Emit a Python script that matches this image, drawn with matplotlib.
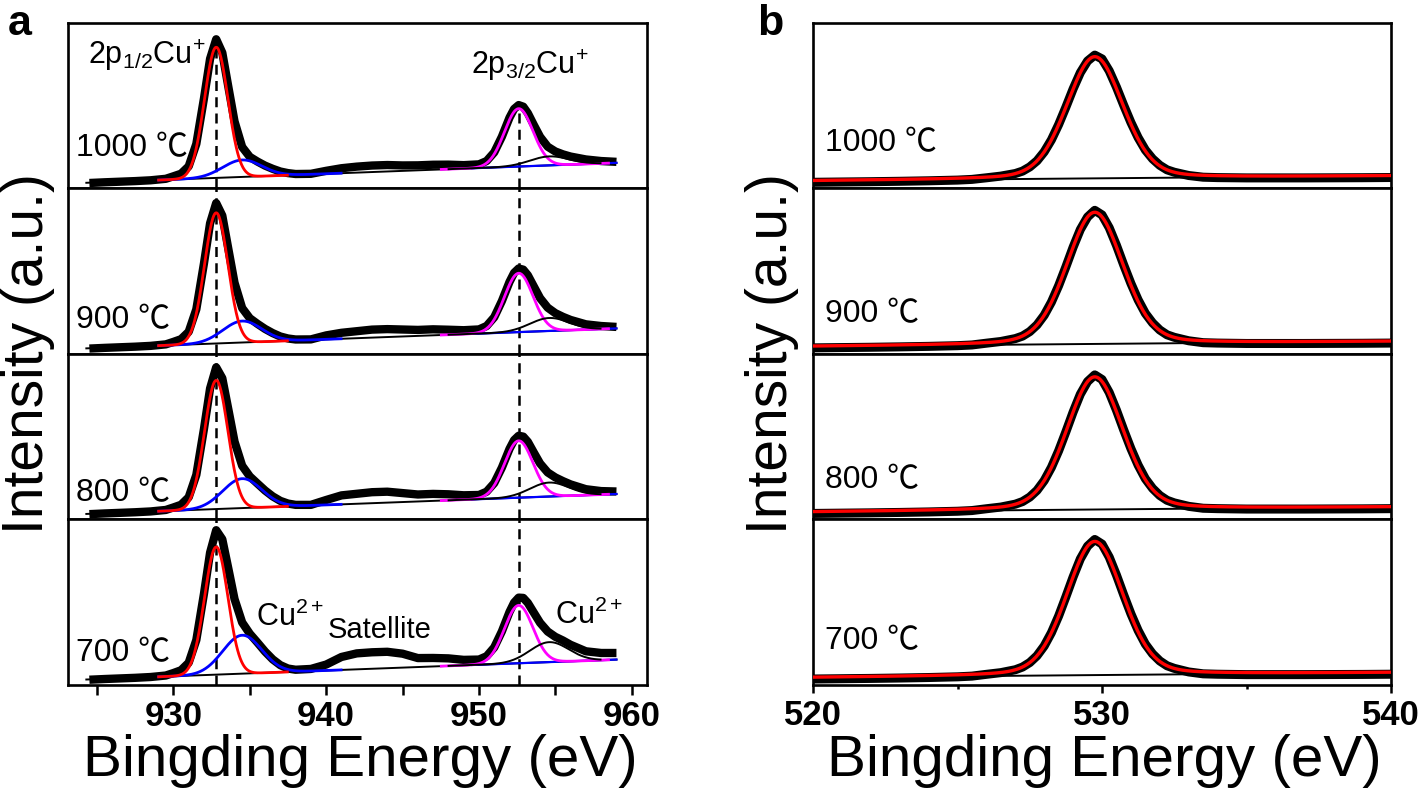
import numpy as np
import matplotlib.pyplot as plt
from matplotlib import font_manager as fm
from matplotlib.ticker import MultipleLocator

plt.rcParams['font.family'] = ['Liberation Sans', 'Noto Sans CJK SC', 'DejaVu Sans']
plt.rcParams['mathtext.fontset'] = 'custom'
plt.rcParams['mathtext.rm'] = 'Liberation Sans'
plt.rcParams['mathtext.it'] = 'Liberation Sans:italic'
plt.rcParams['mathtext.bf'] = 'Liberation Sans:bold'

names = {f.name for f in fm.fontManager.ttflist}
if 'Liberation Sans Narrow' in names:
    tick_font, tick_size = 'Liberation Sans Narrow', 28
else:
    tick_font, tick_size = 'Liberation Sans', 25

temps = ['1000 ℃', '900 ℃', '800 ℃', '700 ℃']

# ---- Cu 2p spectra (a) ----
cu_energy = [924.5, 925.5, 926.5, 927.5, 928.5, 929.5, 930.0, 930.5, 931.0, 931.5,
             932.0, 932.4, 932.8, 933.2, 933.6, 934.0, 934.5, 935.0, 935.5, 936.0,
             936.5, 937.0, 937.5, 938.0, 939.0, 940.0, 941.0, 942.0, 943.0, 944.0,
             945.0, 946.0, 947.0, 948.0, 949.0, 950.0, 950.5, 951.0, 951.5, 952.0,
             952.3, 952.6, 952.9, 953.2, 953.6, 954.0, 954.5, 955.0, 955.5, 956.0,
             957.0, 958.0, 959.0]
cu_1000 = [5.3, 6.0, 6.6, 7.2, 8.0, 9.5, 12.0, 14.6, 22.0, 44.5, 90.1, 129.8, 149.4, 135.9,
           101.3, 67.1, 41.4, 31.5, 26.8, 22.7, 19.5, 16.8, 15.2, 14.3, 14.5, 17.5, 20.1,
           21.7, 22.8, 23.3, 22.9, 23.0, 23.6, 23.7, 23.2, 24.0, 27.3, 36.0, 51.7, 70.8,
           79.5, 83.4, 81.8, 75.3, 63.2, 51.6, 41.7, 36.9, 34.0, 31.8, 28.9, 27.3, 26.5]
cu_900 = [5.3, 6.0, 6.6, 7.2, 8.0, 9.5, 12.0, 14.7, 22.1, 44.7, 90.7, 130.9, 151.2, 138.6,
          104.8, 71.3, 45.9, 35.7, 30.1, 25.0, 20.8, 17.4, 15.4, 14.4, 14.5, 18.5, 21.1,
          22.7, 24.3, 24.8, 24.4, 24.0, 24.6, 24.2, 23.7, 24.5, 27.9, 36.7, 52.9, 72.1,
          81.2, 85.6, 84.4, 78.8, 67.3, 55.9, 46.3, 40.8, 37.1, 34.0, 29.6, 27.9, 27.0]
cu_800 = [5.3, 6.0, 6.6, 7.2, 8.0, 9.5, 12.0, 14.7, 22.2, 44.7, 90.8, 131.3, 152.5, 141.6,
          110.0, 78.1, 53.8, 43.1, 36.0, 29.0, 23.1, 18.6, 15.9, 14.6, 14.6, 19.5, 24.1,
          25.7, 27.3, 27.8, 26.4, 25.0, 25.6, 25.2, 24.2, 24.5, 27.8, 36.4, 51.9, 70.7,
          79.5, 83.9, 83.0, 77.8, 66.8, 56.1, 47.1, 42.1, 38.4, 35.1, 30.3, 28.4, 28.0]
cu_700 = [5.3, 6.0, 6.6, 7.2, 8.0, 9.5, 12.0, 14.8, 22.3, 45.1, 91.5, 132.7, 155.2, 146.1,
          116.4, 86.2, 62.7, 51.4, 42.6, 33.5, 25.7, 19.9, 16.5, 15.3, 16.1, 20.5, 28.1,
          31.7, 32.8, 33.3, 31.4, 27.0, 27.1, 26.7, 25.2, 25.5, 28.8, 37.7, 53.7, 73.2,
          82.6, 87.6, 87.3, 82.3, 72.3, 62.4, 53.6, 48.3, 44.6, 40.3, 33.8, 32.1, 32.1]
cu_data = [cu_1000, cu_900, cu_800, cu_700]

# fitted components: centre (eV), fwhm (eV), heights for 1000/900/800/700
cu_bg_energy = [924.3, 959.0]
cu_bg_level = [5.5, 25.5]
red_centre, red_fwhm = 932.8, 1.8
red_height = [131, 131, 129, 128]
blue_centre, blue_fwhm = 934.5, 3.0
blue_height = [17, 21.5, 29.5, 38.5]
mag_centre, mag_fwhm = 952.6, 2.2
mag_height = [58, 59, 57, 58]
blk_centre, blk_fwhm = 954.6, 3.0
blk_height = [9, 13, 14, 20]

# ---- O 1s spectra (b) ----
o_energy = [520, 521, 522, 523, 524, 525, 525.5, 526, 526.5, 527, 527.25, 527.5, 527.75,
            528, 528.25, 528.5, 528.75, 529, 529.25, 529.5, 529.75, 530, 530.25, 530.5,
            530.75, 531, 531.25, 531.5, 531.75, 532, 532.25, 532.5, 533, 533.5, 534, 535,
            536, 537, 538, 539, 540]
o_1000 = [6.0, 6.3, 6.6, 7.0, 7.5, 8.2, 8.9, 10.5, 12.2, 14.8, 17.2, 21.4, 27.5, 36.5, 48.6,
          63.9, 81.3, 99.6, 115.9, 127.6, 133.5, 129.7, 117.7, 101.4, 83.3, 66.0, 50.8, 38.4,
          29.5, 23.0, 18.5, 16.1, 12.8, 11.1, 10.7, 10.4, 10.4, 10.4, 10.5, 10.6, 10.8]
o_900 = [6.0, 6.3, 6.6, 7.0, 7.5, 8.2, 8.9, 10.7, 12.4, 15.3, 17.8, 22.3, 29.0, 38.7, 51.9,
         68.4, 87.2, 106.9, 124.6, 137.2, 143.9, 139.3, 126.4, 108.8, 89.2, 70.6, 54.1, 40.6,
         31.0, 23.9, 19.1, 16.6, 13.1, 11.2, 10.8, 10.4, 10.4, 10.4, 10.5, 10.6, 10.8]
o_800 = [6.0, 6.3, 6.6, 7.0, 7.5, 8.2, 8.9, 10.7, 12.4, 15.3, 17.9, 22.4, 29.1, 38.9, 52.2,
         68.8, 87.8, 107.6, 125.5, 138.2, 144.9, 140.3, 127.3, 109.5, 89.8, 71.0, 54.4, 40.8,
         31.1, 24.0, 19.2, 16.6, 13.1, 11.2, 10.8, 10.4, 10.4, 10.4, 10.5, 10.6, 10.8]
o_700 = [6.0, 6.3, 6.6, 7.0, 7.5, 8.2, 8.9, 10.7, 12.4, 15.3, 18.0, 22.5, 29.3, 39.1, 52.5,
         69.2, 88.4, 108.3, 126.4, 139.2, 145.9, 141.3, 128.2, 110.2, 90.4, 71.4, 54.7, 41.0,
         31.2, 24.1, 19.3, 16.7, 13.1, 11.2, 10.8, 10.4, 10.4, 10.4, 10.5, 10.6, 10.8]
o_data = [o_1000, o_900, o_800, o_700]
o_bg_energy = [520, 540]
o_bg_level = [7.5, 12.5]
o_centre, o_fwhm, o_eta = 529.75, 2.3, 0.2
o_height = [122, 132, 133, 134]


def peak(e, c, h, w, eta=0.0):
    x = (e - c) / w
    return h * ((1 - eta) * np.exp(-4 * np.log(2) * x ** 2) + eta / (1 + 4 * x ** 2))


fig = plt.figure(figsize=(14.18, 7.99), dpi=100)
W, H = 1418, 799
top, bottom = 1 - 22.7 / H, 1 - 685 / H
gs_a = fig.add_gridspec(4, 1, left=68 / W, right=647 / W, top=top, bottom=bottom, hspace=0)
gs_b = fig.add_gridspec(4, 1, left=813 / W, right=1391 / W, top=top, bottom=bottom, hspace=0)


def style(ax, last, xlim, major, minor, tl_major, tl_minor):
    ax.set_xlim(*xlim)
    ax.set_ylim(0, 166)
    ax.set_yticks([])
    for s in ax.spines.values():
        s.set_linewidth(1.9)
    ax.xaxis.set_major_locator(MultipleLocator(major))
    ax.xaxis.set_minor_locator(MultipleLocator(minor))
    if last:
        ax.tick_params(axis='x', which='major', direction='out', length=tl_major,
                       width=1.8, pad=4)
        ax.tick_params(axis='x', which='minor', direction='out', length=tl_minor, width=1.8)
        for lab in ax.get_xticklabels():
            lab.set_fontfamily(tick_font)
            lab.set_fontsize(tick_size)
            lab.set_fontweight('bold')
    else:
        ax.tick_params(axis='x', which='both', bottom=False, labelbottom=False)


# panel a
ef = np.linspace(924.3, 959.0, 800)
bg_a = np.interp(ef, cu_bg_energy, cu_bg_level)
left_part = (ef > 929) & (ef < 941)
right_part = ef > 949.5
red_part = (ef > 929) & (ef < 937.5)
mag_part = (ef > 947.5) & (ef < 958.5)
blk_part = (ef > 948) & (ef < 958)
temp_y_a = [40, 33.5, 26, 32]
for i in range(4):
    ax = fig.add_subplot(gs_a[i])
    style(ax, i == 3, (923.1, 961.0), 10, 5, 7, 7)
    ax.plot(cu_energy, cu_data[i], color='k', lw=6, solid_joinstyle='round',
            solid_capstyle='butt', zorder=2)
    ax.plot(ef, bg_a, color='k', lw=1.4, zorder=3)
    blue = bg_a + peak(ef, blue_centre, blue_height[i], blue_fwhm)
    ax.plot(ef[left_part], blue[left_part], color='#0000ff', lw=2.0, zorder=4)
    ax.plot(ef[right_part], blue[right_part], color='#0000ff', lw=1.6, zorder=4)
    red = bg_a + peak(ef, red_centre, red_height[i], red_fwhm)
    ax.plot(ef[red_part], red[red_part], color='#ff0000', lw=2.0, zorder=5)
    mag = bg_a + peak(ef, mag_centre, mag_height[i], mag_fwhm)
    ax.plot(ef[mag_part], mag[mag_part], color='#ff00ff', lw=2.0, zorder=5)
    blk = bg_a + peak(ef, blk_centre, blk_height[i], blk_fwhm)
    ax.plot(ef[blk_part], blk[blk_part], color='k', lw=1.4, zorder=5)
    top_l, top_r = (0.91, 0.49) if i == 0 else (1, 1)
    ax.axvline(red_centre, ymax=top_l, color='k', lw=1.8, ls=(0, (4, 2.5)), zorder=1)
    ax.axvline(mag_centre, ymax=top_r, color='k', lw=1.8, ls=(0, (4, 2.5)), zorder=1)
    ax.text(923.6, temp_y_a[i], temps[i], fontsize=23, va='center', ha='left')
    if i == 0:
        ax.text(924.4, 133, r'2p$_\mathregular{1/2}$Cu$^\mathregular{+}$', fontsize=22,
                va='center', ha='left')
        ax.text(949.5, 123, r'2p$_\mathregular{3/2}$Cu$^\mathregular{+}$', fontsize=22,
                va='center', ha='left')
    if i == 3:
        ax.text(935.4, 68, r'Cu$^\mathregular{2+}$', fontsize=22, va='center', ha='left')
        ax.text(940.1, 55, 'Satellite', fontsize=21, va='center', ha='left')
        ax.text(955.0, 70, r'Cu$^\mathregular{2+}$', fontsize=22, va='center', ha='left')

# panel b
eo = np.linspace(520, 540, 600)
bg_b = np.interp(eo, o_bg_energy, o_bg_level)
temp_y_b = [45, 40, 39, 44]
for i in range(4):
    ax = fig.add_subplot(gs_b[i])
    style(ax, i == 3, (520, 540), 10, 5, 6, 3)
    ax.plot(o_energy, o_data[i], color='k', lw=6.5, solid_joinstyle='round',
            solid_capstyle='butt', zorder=2)
    ax.plot(eo, bg_b, color='k', lw=1.4, zorder=3)
    ax.plot(eo, bg_b + peak(eo, o_centre, o_height[i], o_fwhm, o_eta), color='#ff0000',
            lw=2.4, zorder=4)
    ax.text(520.4, temp_y_b[i], temps[i], fontsize=23, va='center', ha='left')

fig.text(28 / W, 1 - 354 / H, 'Intensity (a.u.)', fontsize=41, rotation=90,
         ha='center', va='center')
fig.text(772 / W, 1 - 354 / H, 'Intensity (a.u.)', fontsize=41, rotation=90,
         ha='center', va='center')
fig.text(360 / W, 1 - 761 / H, 'Bingding Energy (eV)', fontsize=42, ha='center', va='center')
fig.text(1104 / W, 1 - 761 / H, 'Bingding Energy (eV)', fontsize=42, ha='center', va='center')
fig.text(8 / W, 1 - 35 / H, 'a', fontsize=31, fontweight='bold', va='baseline')
fig.text(757 / W, 1 - 35 / H, 'b', fontsize=31, fontweight='bold', va='baseline')

fig.savefig('out.png', dpi=100)
